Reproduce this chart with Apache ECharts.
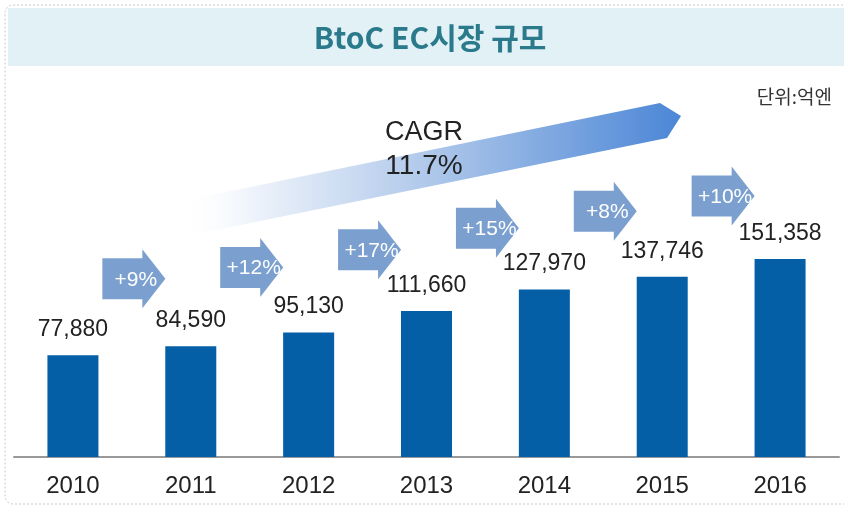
<!DOCTYPE html>
<html>
<head>
<meta charset="utf-8">
<title>BtoC EC시장 규모</title>
<script src="https://cdn.jsdelivr.net/npm/echarts@6/dist/echarts.min.js"></script>
<style>
	html, body { margin: 0; padding: 0; background: #fff; }
	#ecChart { width: 844px; height: 510px; }
</style>
</head>
<body>
<div id="ecChart"></div>
<script>
// 데이터
var years = ['2010', '2011', '2012', '2013', '2014', '2015', '2016'];
var marketSize = [77880, 84590, 95130, 111660, 127970, 137746, 151358];
var growthRate = [9, 12, 17, 15, 8, 10];
var cagrText = ['CAGR', '11.7%'];

var latinFont = "'Liberation Sans', Arial, sans-serif";
var krFont = "'Noto Sans CJK KR', sans-serif";

function initEcChart(){
	var chart = echarts.init(document.getElementById('ecChart'));
	chart.setOption(initEcOption());
}

function initEcOption(){
	// 증가율 화살표 : 두 막대 사이, 평균값 위쪽
	var growthData = [];
	for (var i = 0; i < growthRate.length; i++) {
		growthData.push([i + 0.5, (marketSize[i] + marketSize[i + 1]) / 2 + 55000]);
	}
	return {
		animation: false,
		grid: {
			left: 14,
			right: 5,
			top: 130,
			bottom: 53
		},
		xAxis: [{
			type: 'category',
			data: years,
			axisLine: { lineStyle: { color: '#999', width: 2 } },
			axisTick: { show: false },
			axisLabel: {
				fontSize: 24,
				color: '#222',
				margin: 17,
				fontFamily: latinFont
			}
		}, {
			type: 'value',
			min: -0.5,
			max: 6.5,
			show: false
		}],
		yAxis: [{
			type: 'value',
			min: 0,
			max: 250000,
			show: false
		}],
		graphic: [
			{
				type: 'rect',
				z: 0,
				shape: { x: 5, y: 5, width: 870, height: 499, r: 8 },
				style: { fill: 'none', stroke: '#c9c9c9', lineWidth: 1, lineDash: [2, 2] }
			},
			{
				type: 'rect',
				z: 1,
				shape: { x: 8, y: 8, width: 836, height: 58 },
				style: { fill: '#e2f1f6' }
			},
			{
				type: 'text',
				z: 2,
				x: 430,
				y: 38,
				style: {
					text: 'BtoC EC시장 규모',
					align: 'center',
					verticalAlign: 'middle',
					fontSize: 30,
					fontWeight: 'bold',
					fill: '#2a7a8c',
					fontFamily: krFont
				}
			},
			{
				type: 'text',
				z: 2,
				x: 832,
				y: 97,
				style: {
					text: '단위:억엔',
					align: 'right',
					verticalAlign: 'middle',
					fontSize: 19,
					fill: '#333',
					fontFamily: krFont
				}
			},
			{
				// CAGR 화살표
				type: 'polygon',
				z: 1,
				shape: {
					points: [[177, 202], [660, 103], [681, 116], [667, 138], [177, 238]]
				},
				style: {
					fill: new echarts.graphic.LinearGradient(0, 0, 1, 0, [
						{ offset: 0, color: 'rgba(255,255,255,0)' },
						{ offset: 0.15, color: '#eef3fb' },
						{ offset: 0.5, color: '#afc8ea' },
						{ offset: 1, color: '#4b86d6' }
					])
				}
			},
			{
				type: 'text',
				z: 3,
				x: 424,
				y: 133,
				style: {
					text: cagrText[0],
					align: 'center',
					verticalAlign: 'middle',
					fontSize: 27,
					fill: '#222',
					fontFamily: latinFont
				}
			},
			{
				type: 'text',
				z: 3,
				x: 424,
				y: 166,
				style: {
					text: cagrText[1],
					align: 'center',
					verticalAlign: 'middle',
					fontSize: 28,
					fill: '#222',
					fontFamily: latinFont
				}
			}
		],
		series: [
			{
				name: '시장규모',
				type: 'bar',
				barWidth: 51,
				itemStyle: { color: '#045fa6' },
				label: {
					show: true,
					position: 'top',
					distance: 14,
					fontSize: 23,
					color: '#222',
					fontFamily: latinFont,
					formatter: function(p){
						return p.value.toLocaleString('en-US');
					}
				},
				data: marketSize
			},
			{
				name: '증가율',
				type: 'scatter',
				xAxisIndex: 1,
				symbol: 'path://M0,9L40,9L40,0L63,29.5L40,59L40,50L0,50Z',
				symbolSize: [63, 59],
				symbolOffset: [2, 0],
				itemStyle: { color: '#7ba0cf', opacity: 1 },
				label: {
					show: true,
					position: 'inside',
					offset: [2, 1],
					fontSize: 21,
					color: '#fff',
					fontFamily: latinFont,
					formatter: function(p){
						return '+' + growthRate[p.dataIndex] + '%';
					}
				},
				data: growthData
			}
		]
	};
}

initEcChart();
</script>
</body>
</html>
